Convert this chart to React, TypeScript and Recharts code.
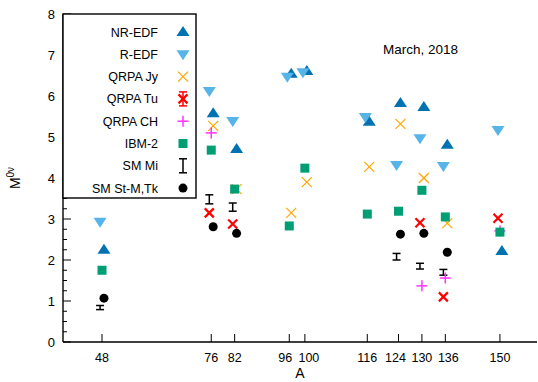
import React from 'react';
import { ScatterChart, Scatter, XAxis, YAxis, ErrorBar } from 'recharts';

const W = 538;
const H = 382;
const FONT = '"Liberation Sans", Arial, sans-serif';

// tick labels on the A axis
const massTicks = [48, 76, 82, 96, 100, 116, 124, 130, 136, 150];
const yTicks = Array.from({ length: 33 }, (_, i) => i * 0.25);

// values
const allA = [48, 76, 82, 96, 100, 116, 124, 130, 136, 150];
const nrEdf = [2.25, 5.58, 4.71, 6.54, 6.61, 5.37, 5.83, 5.73, 4.81, 2.22];
const rEdf = [2.93, 6.12, 5.39, 6.47, 6.58, 5.49, 4.32, 4.97, 4.29, 5.17];
const qrpaJyA = [76, 82, 96, 100, 116, 124, 130, 136];
const qrpaJy = [5.27, 3.73, 3.15, 3.9, 4.27, 5.32, 4.0, 2.9];
const qrpaTuA = [76, 82, 130, 136, 150];
const qrpaTu = [3.15, 2.88, 2.91, 1.1, 3.02];
const qrpaChA = [76, 130, 136, 150];
const qrpaCh = [5.1, 1.37, 1.56, 2.71];
const ibm2 = [1.75, 4.68, 3.73, 2.83, 4.24, 3.12, 3.19, 3.7, 3.05, 2.68];
const smMiA = [48, 76, 82, 124, 130, 136];
const smMi = [0.84, 3.48, 3.29, 2.08, 1.85, 1.7];
const smMiErr = [0.05, 0.11, 0.1, 0.08, 0.07, 0.07];
const smStA = [48, 76, 82, 124, 130, 136];
const smSt = [1.07, 2.81, 2.65, 2.63, 2.65, 2.19];

// marker drawers
const triUp = (cx: number, cy: number) => (
  <polygon points={`${cx},${cy - 6} ${cx - 6.5},${cy + 4} ${cx + 6.5},${cy + 4}`} fill="#0072B2" />
);
const triDown = (cx: number, cy: number) => (
  <polygon points={`${cx},${cy + 6} ${cx - 6.5},${cy - 4} ${cx + 6.5},${cy - 4}`} fill="#56B4E9" />
);
const crossX = (color: string, r: number, sw: number) => (cx: number, cy: number) => (
  <g stroke={color} strokeWidth={sw}>
    <line x1={cx - r} y1={cy - r} x2={cx + r} y2={cy + r} />
    <line x1={cx - r} y1={cy + r} x2={cx + r} y2={cy - r} />
  </g>
);
const plus = (cx: number, cy: number) => (
  <g stroke="#ff33ff" strokeWidth={1.5}>
    <line x1={cx - 5.5} y1={cy} x2={cx + 5.5} y2={cy} />
    <line x1={cx} y1={cy - 5.5} x2={cx} y2={cy + 5.5} />
  </g>
);
const square = (cx: number, cy: number) => (
  <rect x={cx - 4.5} y={cy - 4.5} width={9} height={9} fill="#009E73" />
);
const dot = (cx: number, cy: number) => <circle cx={cx} cy={cy} r={4.5} fill="#000" />;
const empty = () => <g />;

const orangeX = crossX('#FFA500', 5, 1.2);
const redX = crossX('#FF0000', 4.5, 2.2);

const pts = (xs: number[], ys: number[], shift: number, errs?: number[]) =>
  xs.map((a, i) => ({ x: a + shift, y: ys[i], err: errs ? errs[i] : 0 }));

const series = [
  { name: 'NR-EDF', data: pts(allA, nrEdf, 0.5), draw: triUp },
  { name: 'R-EDF', data: pts(allA, rEdf, -0.5), draw: triDown },
  { name: 'QRPA Jy', data: pts(qrpaJyA, qrpaJy, 0.5), draw: orangeX },
  { name: 'QRPA Tu', data: pts(qrpaTuA, qrpaTu, -0.5), draw: redX },
  { name: 'QRPA CH', data: pts(qrpaChA, qrpaCh, 0), draw: plus },
  { name: 'IBM-2', data: pts(allA, ibm2, 0), draw: square },
  { name: 'SM St-M,Tk', data: pts(smStA, smSt, 0.5), draw: dot },
];
const smMiData = pts(smMiA, smMi, -0.5, smMiErr);

const legendRows = [
  { label: 'NR-EDF', draw: triUp },
  { label: 'R-EDF', draw: triDown },
  { label: 'QRPA Jy', draw: orangeX },
  {
    label: 'QRPA Tu',
    draw: (cx: number, cy: number) => (
      <g>
        <g stroke="#FF0000" strokeWidth={1.5}>
          <line x1={cx} y1={cy - 7} x2={cx} y2={cy + 7} />
          <line x1={cx - 4} y1={cy - 7} x2={cx + 4} y2={cy - 7} />
          <line x1={cx - 4} y1={cy + 7} x2={cx + 4} y2={cy + 7} />
        </g>
        {redX(cx, cy)}
      </g>
    ),
  },
  { label: 'QRPA CH', draw: plus },
  { label: 'IBM-2', draw: square },
  {
    label: 'SM Mi',
    draw: (cx: number, cy: number) => (
      <g stroke="#000" strokeWidth={1.5}>
        <line x1={cx} y1={cy - 7} x2={cx} y2={cy + 7} />
        <line x1={cx - 4} y1={cy - 7} x2={cx + 4} y2={cy - 7} />
        <line x1={cx - 4} y1={cy + 7} x2={cx + 4} y2={cy + 7} />
      </g>
    ),
  },
  { label: 'SM St-M,Tk', draw: dot },
];

// some ticks sit close together, nudge their labels apart
const labelNudge: Record<number, number> = { 96: -4, 100: 4, 124: -3, 136: 3 };

const LeftTick = (props: any) => {
  const { x, y, payload } = props;
  const major = Number.isInteger(payload.value);
  return (
    <g>
      <line x1={x} x2={x + (major ? 8 : 4)} y1={y} y2={y} stroke="#000" />
      {major && (
        <text x={x - 8} y={y + 4.5} textAnchor="end" fontSize={13} fontFamily={FONT} fill="#000">
          {payload.value}
        </text>
      )}
    </g>
  );
};
const RightTick = (props: any) => {
  const { x, y, payload } = props;
  const major = Number.isInteger(payload.value);
  return <line x1={x} x2={x - (major ? 8 : 4)} y1={y} y2={y} stroke="#000" />;
};
const BottomTick = (props: any) => {
  const { x, y, payload } = props;
  const dx = labelNudge[payload.value] || 0;
  return (
    <g>
      <line x1={x} x2={x} y1={y} y2={y - 8} stroke="#000" />
      <text x={x + dx} y={y + 20} textAnchor="middle" fontSize={12.5} fontFamily={FONT} fill="#000">
        {payload.value}
      </text>
    </g>
  );
};
const TopTick = (props: any) => {
  const { x, y } = props;
  return <line x1={x} x2={x} y1={y} y2={y + 8} stroke="#000" />;
};

export default function App() {
  const axisLine = { stroke: '#000', strokeWidth: 1.4 };
  return (
    <div style={{ position: 'absolute', left: 0, top: 0, width: W, height: H, background: '#fff' }}>
      <ScatterChart width={W} height={H} margin={{ top: 14, right: 1, bottom: 0, left: 0 }}>
        <XAxis
          xAxisId="b"
          dataKey="x"
          type="number"
          domain={[38, 159.5]}
          ticks={massTicks}
          interval={0}
          height={40}
          tickSize={0}
          tickMargin={0}
          tickLine={false}
          axisLine={axisLine}
          tick={<BottomTick />}
          allowDataOverflow
        />
        <XAxis
          xAxisId="t"
          orientation="top"
          type="number"
          domain={[38, 159.5]}
          ticks={massTicks}
          interval={0}
          height={0}
          tickSize={0}
          tickMargin={0}
          tickLine={false}
          axisLine={axisLine}
          tick={<TopTick />}
          allowDataOverflow
        />
        <YAxis
          yAxisId="l"
          dataKey="y"
          type="number"
          domain={[0, 8]}
          ticks={yTicks}
          interval={0}
          width={63}
          tickSize={0}
          tickMargin={0}
          tickLine={false}
          axisLine={axisLine}
          tick={<LeftTick />}
          allowDataOverflow
        />
        <YAxis
          yAxisId="r"
          orientation="right"
          type="number"
          domain={[0, 8]}
          ticks={yTicks}
          interval={0}
          width={0}
          tickSize={0}
          tickMargin={0}
          tickLine={false}
          axisLine={axisLine}
          tick={<RightTick />}
          allowDataOverflow
        />
        <Scatter
          name="SM Mi"
          data={smMiData}
          xAxisId="b"
          yAxisId="l"
          shape={empty}
          isAnimationActive={false}
        >
          <ErrorBar dataKey="err" direction="y" width={4} stroke="#000" strokeWidth={1.5} isAnimationActive={false} />
        </Scatter>
        {series.map((s) => (
          <Scatter
            key={s.name}
            name={s.name}
            data={s.data}
            xAxisId="b"
            yAxisId="l"
            isAnimationActive={false}
            shape={(p: any) => s.draw(p.cx, p.cy)}
          />
        ))}
      </ScatterChart>
      <svg
        width={W}
        height={H}
        style={{ position: 'absolute', left: 0, top: 0, pointerEvents: 'none' }}
        fontFamily={FONT}
      >
        <rect x={63} y={14} width={133} height={184} fill="#fff" stroke="#000" strokeWidth={1.4} />
        {legendRows.map((r, i) => {
          const cy = 32 + i * 22.3;
          return (
            <g key={r.label}>
              <text x={158} y={cy + 4.5} textAnchor="end" fontSize={12.5} fill="#000">
                {r.label}
              </text>
              {r.draw(183, cy)}
            </g>
          );
        })}
        <text x={383} y={54} fontSize={13.5} fill="#000">
          March, 2018
        </text>
        <text x={300} y={378} textAnchor="middle" fontSize={14} fill="#000">
          A
        </text>
        <text transform="translate(20,178) rotate(-90)" textAnchor="middle" fontSize={14} fill="#000">
          M<tspan dy={-6} fontSize={10}>0ν</tspan>
        </text>
      </svg>
    </div>
  );
}
